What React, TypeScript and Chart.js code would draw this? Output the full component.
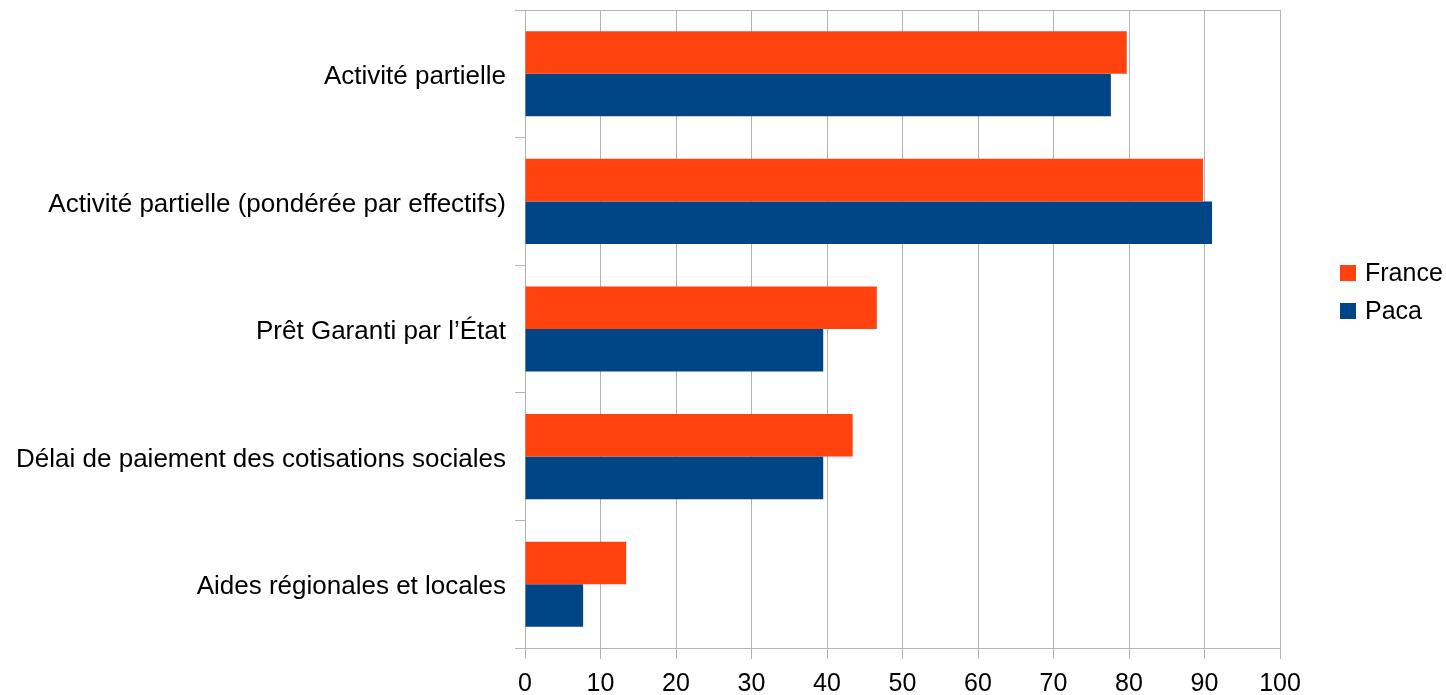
import React, { useEffect, useRef } from "react";
import { Chart, registerables } from "chart.js";

Chart.register(...registerables);

const categories = [
  "Activité partielle",
  "Activité partielle (pondérée par effectifs)",
  "Prêt Garanti par l’État",
  "Délai de paiement des cotisations sociales",
  "Aides régionales et locales",
];
const franceValues = [79.7, 89.8, 46.6, 43.4, 13.4];
const pacaValues = [77.6, 91.0, 39.5, 39.5, 7.7];
const seriesNames = ["France", "Paca"];
const seriesColors = ["#ff420e", "#004586"];
const xTickValues = [0, 10, 20, 30, 40, 50, 60, 70, 80, 90, 100];

const FONT = "'Liberation Sans', Arial, sans-serif";
const GRID = "#b3b3b3";

const frameAndLegend = {
  id: "frameAndLegend",
  afterDraw(chart: any) {
    const { ctx, chartArea } = chart;
    ctx.save();
    ctx.strokeStyle = GRID;
    ctx.lineWidth = 1;
    ctx.beginPath();
    ctx.moveTo(chartArea.left, chartArea.top + 0.5);
    ctx.lineTo(chartArea.right, chartArea.top + 0.5);
    ctx.stroke();

    const x0 = 1340;
    const ys = [273, 311];
    ctx.font = `25px ${FONT}`;
    ctx.textBaseline = "middle";
    ctx.textAlign = "left";
    chart.data.datasets.forEach((ds: any, i: number) => {
      ctx.fillStyle = ds.backgroundColor;
      ctx.fillRect(x0, ys[i] - 8, 16, 16);
      ctx.fillStyle = "#000";
      ctx.fillText(ds.label, x0 + 25, ys[i] + 1);
    });
    ctx.restore();
  },
};

export default function App() {
  const ref = useRef<HTMLCanvasElement>(null);
  useEffect(() => {
    document.body.style.margin = "0";
    const chart = new Chart(ref.current!, {
      type: "bar",
      data: {
        labels: categories,
        datasets: [
          { label: seriesNames[0], data: franceValues, backgroundColor: seriesColors[0] },
          { label: seriesNames[1], data: pacaValues, backgroundColor: seriesColors[1] },
        ],
      },
      options: {
        indexAxis: "y",
        animation: false,
        responsive: true,
        maintainAspectRatio: false,
        datasets: { bar: { categoryPercentage: 0.667, barPercentage: 1.0 } },
        layout: { padding: { top: 10, right: 166, bottom: 0, left: 0 } },
        plugins: { legend: { display: false }, tooltip: { enabled: false } },
        scales: {
          x: {
            min: 0,
            max: 100,
            afterBuildTicks: (s: any) => {
              s.ticks = xTickValues.map((v) => ({ value: v }));
            },
            afterFit: (s: any) => {
              s.height = 47;
              s.paddingLeft = 0;
              s.paddingRight = 0;
            },
            grid: { color: GRID, lineWidth: 1, tickLength: 11, drawOnChartArea: true },
            border: { color: GRID },
            ticks: { color: "#000", font: { family: FONT, size: 25 }, padding: 10 },
          },
          y: {
            afterFit: (s: any) => {
              s.width = 525;
              s.paddingTop = 0;
              s.paddingBottom = 0;
            },
            grid: { color: GRID, lineWidth: 1, tickLength: 10, drawOnChartArea: false, offset: true },
            border: { color: GRID },
            ticks: { color: "#000", font: { family: FONT, size: 26 }, padding: 9, labelOffset: 3 },
          },
        },
      },
      plugins: [frameAndLegend],
    });
    return () => chart.destroy();
  }, []);
  return (
    <div style={{ position: "fixed", left: 0, top: 0, width: 1446, height: 695 }}>
      <canvas ref={ref} />
    </div>
  );
}
